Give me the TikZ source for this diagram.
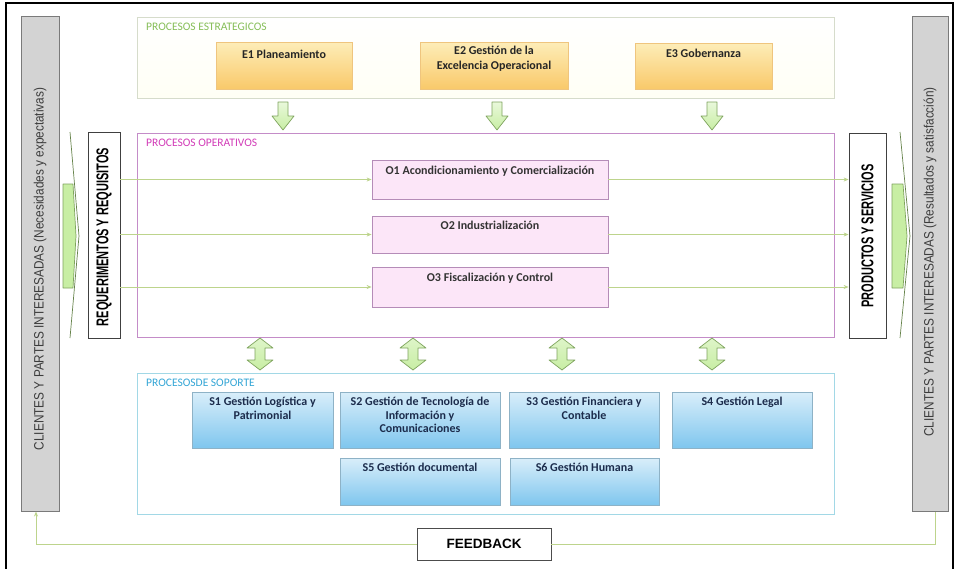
\documentclass[tikz,border=0pt]{standalone}
\usepackage{fontspec}
\setmainfont{Carlito}
\newfontfamily\arialf{Liberation Sans}
\usetikzlibrary{arrows.meta}
\definecolor{barfill}{HTML}{D3D3D3}
\definecolor{bardraw}{HTML}{7A7A7A}
\definecolor{bartxt}{HTML}{3C3C3C}
\definecolor{stratdraw}{HTML}{D6DCCB}
\definecolor{stratlbl}{HTML}{86BE58}
\definecolor{operdraw}{HTML}{C48CC8}
\definecolor{operlbl}{HTML}{D23CB8}
\definecolor{suppdraw}{HTML}{A2D8E6}
\definecolor{supplbl}{HTML}{34A6D6}
\definecolor{etop}{HTML}{FDEDB8}
\definecolor{ebot}{HTML}{F9C96A}
\definecolor{edraw}{HTML}{EFC57E}
\definecolor{ofill}{HTML}{FCE6F8}
\definecolor{odraw}{HTML}{B58CB8}
\definecolor{stop}{HTML}{D9EEFA}
\definecolor{sbot}{HTML}{7FC6EE}
\definecolor{sdraw}{HTML}{8EB2C6}
\definecolor{stxt}{HTML}{1C2C4C}
\definecolor{gfill}{HTML}{C8EEA4}
\definecolor{gdraw}{HTML}{7FA45E}
\definecolor{flow}{HTML}{BDD48C}
\tikzset{
  graybar/.style={draw=bardraw, fill=barfill, line width=0.9pt, inner sep=0pt},
  bartext/.style={font=\arialf\fontsize{11.8}{13}\selectfont, text=bartxt, rotate=90, inner sep=0pt},
  section/.style={line width=0.8pt, inner sep=0pt},
  seclbl/.style={anchor=west, inner sep=0pt, font=\fontsize{11.5}{12}\selectfont},
  ebox/.style={draw=edraw, top color=etop, bottom color=ebot, line width=0.6pt, inner sep=0pt},
  obox/.style={draw=odraw, fill=ofill, line width=0.8pt, inner sep=0pt},
  sbox/.style={draw=sdraw, top color=stop, bottom color=sbot, line width=0.6pt, inner sep=0pt},
  btxt/.style={anchor=north, inner sep=0pt, align=center, font=\bfseries\fontsize{12}{15}\selectfont},
  stext/.style={btxt, text=stxt, font=\bfseries\fontsize{12}{13.5}\selectfont},
  sidebox/.style={draw=black!75, fill=white, line width=0.8pt, inner sep=0pt},
  sidetxt/.style={font=\arialf\bfseries\fontsize{11}{12}\selectfont, rotate=90, inner sep=0pt},
  harrow/.style={draw=flow, line width=0.8pt, -{Stealth[length=5pt,width=4pt]}},
  fbline/.style={draw=flow, line width=0.8pt},
  garrow/.style={draw=gdraw, fill=gfill, line width=0.7pt, line join=round},
}
\begin{document}
\begin{tikzpicture}[x=1pt,y=-1pt]
\useasboundingbox (0,0) rectangle (955,568);
\fill[white] (0,0) rectangle (955,568);
% outer frame
\draw[line width=1.6pt] (6,570) -- (6,3) -- (953,3) -- (953,570);

% side gray bars
\node[graybar, minimum width=38, minimum height=495] (lbar) at (40,263.5) {};
\node[bartext] (ltxt) at (40,269) {\scalebox{1}[1.15]{CLIENTES Y PARTES INTERESADAS (Necesidades y expectativas)}};
\node[graybar, minimum width=36, minimum height=495] (rbar) at (930,263.5) {};
\node[bartext] (rtxt) at (930,262) {\scalebox{1}[1.15]{CLIENTES Y PARTES INTERESADAS (Resultados y satisfacción)}};

% side green arrows
\draw[garrow] (63,184) -- (73,184) -- (76,236) -- (73,288) -- (63,288) -- cycle;
\draw[draw=gdraw!80!black, line width=0.7pt] (70,132) -- (79,236) -- (70,338);
\draw[garrow] (892,184) -- (903,184) -- (907,236) -- (903,288) -- (892,288) -- cycle;
\draw[draw=gdraw!80!black, line width=0.7pt] (900,132) -- (910,236) -- (900,338);

% REQ / PROD boxes
\node[sidebox, minimum width=32, minimum height=206] (req) at (104,235) {};
\node[sidetxt] (reqt) at (104,237) {\scalebox{1}[1.55]{REQUERIMENTOS Y REQUISITOS}};
\node[sidebox, minimum width=37, minimum height=205] (prod) at (867.5,235.5) {};
\node[sidetxt] (prodt) at (867.5,236) {\scalebox{1}[1.55]{PRODUCTOS Y SERVICIOS}};

% section boxes
\node[section, draw=stratdraw, top color=white, bottom color=yellow!4, minimum width=697, minimum height=81] (strat) at (485.5,57.5) {};
\node[seclbl, text=stratlbl] (stratl) at (146,27) {PROCESOS ESTRATEGICOS};
\node[section, draw=operdraw, fill=white, minimum width=697, minimum height=204] (oper) at (485.5,235) {};
\node[seclbl, text=operlbl] (operl) at (146,143) {PROCESOS OPERATIVOS};
\node[section, draw=suppdraw, fill=white, minimum width=697, minimum height=141] (supp) at (485.5,443.5) {};
\node[seclbl, text=supplbl] (suppl) at (146,383) {PROCESOSDE SOPORTE};

% strategic boxes
\node[ebox, minimum width=136, minimum height=47] (e1) at (284,65.5) {};
\node[btxt, text=black!85] (e1t) at (284,50) {E1 Planeamiento};
\node[ebox, minimum width=148, minimum height=47] (e2) at (494,65.5) {};
\node[btxt, text=black!85] (e2t) at (494,46) {E2 Gestión de la\\Excelencia Operacional};
\node[ebox, minimum width=137, minimum height=46] (e3) at (703.5,66) {};
\node[btxt, text=black!85] (e3t) at (703.5,49) {E3 Gobernanza};

% operative boxes
\node[obox, minimum width=236, minimum height=39] (o1) at (490,179.5) {};
\node[btxt, text=black!80] (o1t) at (490,166) {O1 Acondicionamiento y Comercialización};
\node[obox, minimum width=236, minimum height=37] (o2) at (490,234.5) {};
\node[btxt, text=black!80] (o2t) at (490,221) {O2 Industrialización};
\node[obox, minimum width=236, minimum height=40] (o3) at (490,287) {};
\node[btxt, text=black!80] (o3t) at (490,273) {O3 Fiscalización y Control};

% horizontal flows
\foreach \o in {o1,o2,o3}{
  \draw[harrow] (req.east |- \o.west) -- (\o.west);
  \draw[harrow] (\o.east) -- (prod.west |- \o.east);
}

% support boxes
\node[sbox, minimum width=141, minimum height=56] (s1) at (262.5,420) {};
\node[stext] (s1t) at (262.5,397) {S1 Gestión Logística y\\Patrimonial};
\node[sbox, minimum width=160, minimum height=56] (s2) at (420,420) {};
\node[stext] (s2t) at (420,397) {S2 Gestión de Tecnología de\\Información y\\Comunicaciones};
\node[sbox, minimum width=150, minimum height=56] (s3) at (584,420) {};
\node[stext] (s3t) at (584,397) {S3 Gestión Financiera y\\Contable};
\node[sbox, minimum width=140, minimum height=56] (s4) at (742,420) {};
\node[stext] (s4t) at (742,397) {S4 Gestión Legal};
\node[sbox, minimum width=160, minimum height=47] (s5) at (420,481.5) {};
\node[stext] (s5t) at (420,463) {S5 Gestión documental};
\node[sbox, minimum width=149, minimum height=47] (s6) at (584.5,481.5) {};
\node[stext] (s6t) at (584.5,463) {S6 Gestión Humana};

% down arrows (strategic -> operative)
\foreach \x in {283,497,712}{
  \draw[garrow, top color=gfill!40, bottom color=gfill, fill=none] (\x-5,102) -- (\x+5,102) -- (\x+5,116) -- (\x+11,116) -- (\x,130) -- (\x-11,116) -- (\x-5,116) -- cycle;
}
% double arrows (operative <-> support)
\foreach \x in {260,413,562,712}{
  \draw[garrow, top color=gfill!60, bottom color=gfill, fill=none] (\x,338) -- (\x+13,348) -- (\x+5,348) -- (\x+5,360) -- (\x+13,360) -- (\x,370) -- (\x-13,360) -- (\x-5,360) -- (\x-5,348) -- (\x-13,348) -- cycle;
}

% feedback
\node[sidebox, draw=black!70, minimum width=134, minimum height=32, font=\arialf\bfseries\fontsize{13.5}{14}\selectfont] (fb) at (484,544) {FEEDBACK};
\coordinate (fbr) at (935,511.5);
\coordinate (fbl) at (36,511.5);
\draw[fbline] (fb.east) -| (fbr);
\draw[harrow] (fb.west) -| (fbl);
\end{tikzpicture}
\end{document}
